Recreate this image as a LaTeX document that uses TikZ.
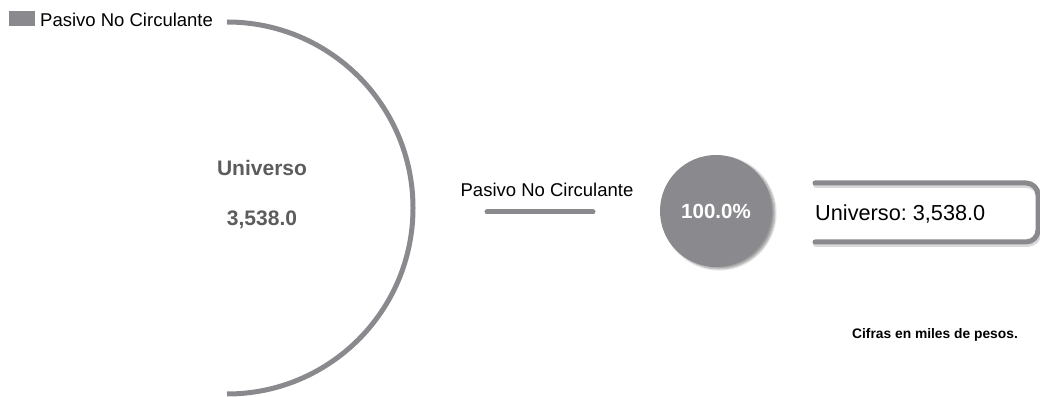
\documentclass[tikz,border=0pt]{standalone}
\usepackage{fontspec}
\setmainfont{Liberation Sans}
\frenchspacing
\usetikzlibrary{calc}
\usetikzlibrary{shadows.blur}

\definecolor{barGray}{RGB}{138,138,142}
\definecolor{textGray}{RGB}{92,92,94}

\begin{document}
\begin{tikzpicture}[x=1pt,y=1pt,
  grayline/.style={barGray,line width=5pt,line cap=round},
  bigbold/.style={font=\fontsize{21}{24}\selectfont\bfseries},
  labeltext/.style={font=\fontsize{18.5}{20}\selectfont}]

\useasboundingbox (0,0) rectangle (1040,396);

\coordinate (T) at (227,374);
\coordinate (M1) at (487,184);
\coordinate (M2) at (593,184);
\coordinate (B1) at (815,213);
\coordinate (B2) at (815,154);

\fill[barGray] (9,370) rectangle (35,385);
\node[labeltext,anchor=west,inner sep=0pt] (legtext) at (40,376) {Pasivo No Circulante};

\draw[barGray,line width=5pt] (T) arc[start angle=90,end angle=-90,radius=186];

\node[bigbold,textGray] (univ) at (262,228) {Universo};
\node[bigbold,textGray] (univval) at (262,176) {3,538.0};

\node[labeltext] (midlabel) at (547,206) {Pasivo No Circulante};
\draw[grayline] (M1)--(M2);

\node[circle,fill=barGray,minimum size=112pt,inner sep=0pt,
  blur shadow={shadow xshift=3pt,shadow yshift=-2pt,shadow blur steps=8},
  text=white,font=\fontsize{20.5}{23}\selectfont\bfseries] (pct) at (716,185) {100.0\%};

\draw[black!25,line width=6pt,line cap=round,rounded corners=12pt,opacity=.6]
  ($(B1)+(1,-2)$) -- (1039,211) -- (1039,152) -- ($(B2)+(1,-2)$);
\draw[grayline,rounded corners=12pt] (B1) -- (1038,213) -- (1038,154) -- (B2);
\node[anchor=west,inner sep=0pt,font=\fontsize{21.7}{24}\selectfont] (boxtext) at (815,182) {Universo: 3,538.0};

\node[font=\fontsize{13.8}{16}\selectfont\bfseries] (nota) at (935,61) {Cifras en miles de pesos.};

\end{tikzpicture}
\end{document}
